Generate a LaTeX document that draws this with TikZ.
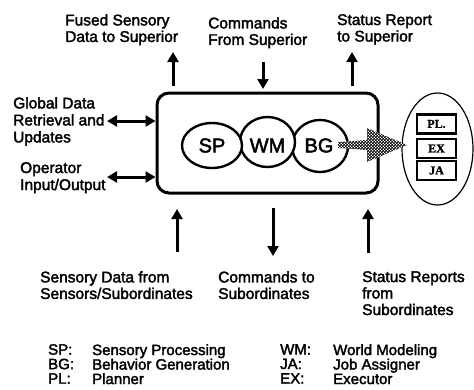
\documentclass[tikz,border=0pt]{standalone}
\usepackage{fontspec}
\setmainfont{Liberation Sans}[FakeBold=2.2]
\newfontfamily\boxserif{Liberation Serif Bold}[FakeBold=1.5]
\usetikzlibrary{arrows.meta,patterns,shapes.geometric}

% fine dither used for the transfer arrow
\pgfdeclarepatternformonly{finechecker}{\pgfpointorigin}{\pgfqpoint{3.4pt}{3.4pt}}{\pgfqpoint{3.4pt}{3.4pt}}{%
  \pgfpathrectangle{\pgfpointorigin}{\pgfqpoint{1.9pt}{1.9pt}}%
  \pgfpathrectangle{\pgfqpoint{1.7pt}{1.7pt}}{\pgfqpoint{1.9pt}{1.9pt}}%
  \pgfusepath{fill}}

\tikzset{
  lbl/.style={anchor=north west, inner sep=0pt, align=left,
    font=\fontsize{15.5}{16.5}\selectfont},
  legend/.style={anchor=north west, inner sep=0pt, align=left,
    font=\fontsize{15}{14.5}\selectfont},
  flow/.style={line width=3pt, -{Triangle[length=10pt,width=11pt]}},
  dflow/.style={line width=3pt, {Triangle[length=10pt,width=11pt]}-{Triangle[length=10pt,width=11pt]}},
  module/.style={ellipse, draw, fill=white, line width=2.4pt, inner sep=0pt},
  modtext/.style={inner sep=0pt, font=\fontsize{20}{20}\selectfont},
  jobbox/.style={draw, line width=2.6pt, minimum width=39pt, minimum height=19pt,
    inner sep=0pt, font=\boxserif\fontsize{12}{12}\selectfont},
}

\begin{document}
\begin{tikzpicture}[x=1pt,y=-1pt]
\useasboundingbox (0,0) rectangle (474,389);

% the node box
\node[draw, rounded corners=12pt, line width=3pt, minimum width=221pt,
      minimum height=100pt] (box) at (267.5,143) {};

% processing modules, drawn right to left so each overlaps the next
\node[module, minimum width=56pt, minimum height=52pt] (bg) at (320,146) {};
\node[module, minimum width=55pt, minimum height=50pt] (wm) at (267.5,142) {};
\node[module, minimum width=60pt, minimum height=45pt] (sp) at (212,145.5) {};
\node[modtext] (bgT) at (319,145.5) {BG};
\node[modtext] (wmT) at (267.5,145.5) {WM};
\node[modtext] (spT) at (212,145.5) {SP};

% job group
\node[ellipse, draw, line width=1.2pt, minimum width=71pt, minimum height=112pt,
      inner sep=0pt] (jobs) at (437.5,149) {};
\node[jobbox] (pl) at (436.5,124) {PL.};
\node[jobbox] (ex) at (436.5,148.5) {EX};
\node[jobbox] (ja) at (436.5,170.5) {JA};

% dithered arrow from BG to the job group
\coordinate (ht) at (407,145);
\path[fill=white] (338,142) -- (367,140) -- (367,128) -- (ht) -- (367,162)
  -- (367,150) -- (338,148) -- cycle;
\path[pattern=finechecker] (338,142) -- (367,140) -- (367,128) -- (ht) -- (367,162)
  -- (367,150) -- (338,148) -- cycle;

% top connectors
\coordinate (fusedTail) at (173,86);
\coordinate (fusedTip) at (173,52);
\coordinate (cmdTail) at (263,62);
\coordinate (cmdTip) at (263,89);
\coordinate (statTail) at (352,86);
\coordinate (statTip) at (352,52);
\draw[flow] (fusedTail) -- (fusedTip);
\draw[flow] (cmdTail) -- (cmdTip);
\draw[flow] (statTail) -- (statTip);

% left connectors
\coordinate (globL) at (107,121);
\coordinate (opL) at (107,177);
\draw[dflow] (globL) -- (globL -| box.west);
\draw[dflow] (opL) -- (opL -| box.west);

% bottom connectors
\coordinate (sensTail) at (177,252);
\coordinate (sensTip) at (177,209);
\coordinate (subTail) at (273,208);
\coordinate (subTip) at (273,256);
\coordinate (repTail) at (368,253);
\coordinate (repTip) at (368,209);
\draw[flow] (sensTail) -- (sensTip);
\draw[flow] (subTail) -- (subTip);
\draw[flow] (repTail) -- (repTip);

% labels
\node[lbl] (t1) at (65,14) {Fused Sensory\\Data to Superior};
\node[lbl] (t2) at (208,17) {Commands\\From Superior};
\node[lbl] (t3) at (337,14) {Status Report\\to Superior};
\node[lbl, font=\fontsize{15.5}{17}\selectfont] (l1) at (13,97) {Global Data\\Retrieval and\\Updates};
\node[lbl, font=\fontsize{15.5}{17}\selectfont] (l2) at (20,162) {Operator\\Input/Output};
\node[lbl] (b1) at (40,271) {Sensory Data from\\Sensors/Subordinates};
\node[lbl] (b2) at (218,271) {Commands to\\Subordinates};
\node[lbl] (b3) at (362,271) {Status Reports\\from\\Subordinates};

% legend
\node[legend] (ka) at (48,344) {SP:\\BG:\\PL:};
\node[legend] (va) at (92,344) {Sensory Processing\\Behavior Generation\\Planner};
\node[legend] (kb) at (280,344) {WM:\\JA:\\EX:};
\node[legend] (vb) at (333,344) {World Modeling\\Job Assigner\\Executor};
\end{tikzpicture}
\end{document}
